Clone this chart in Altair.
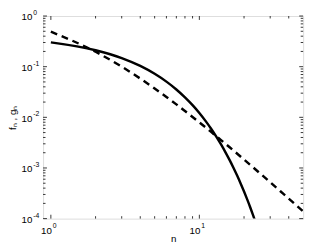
import altair as alt
import pandas as pd

# ---- data ----
g_n = [1, 2, 3, 4, 5, 6, 7, 8, 9, 10, 12, 14, 16, 18, 20, 25, 30, 35, 40, 45, 50]
g_val = [0.490, 0.197, 0.100, 0.0582, 0.0371, 0.0252, 0.0180, 0.0133, 0.01016, 0.00794,
         0.00515, 0.00355, 0.00256, 0.00191, 0.001467, 0.000834, 0.000523, 0.000351,
         0.000249, 0.000183, 0.000139]

f_n = [1, 2, 3, 4, 5, 6, 7, 8, 9, 10, 11, 12, 13, 14, 15, 16, 17, 18, 19, 20,
       21, 22, 23, 24]
f_val = [0.302, 0.211, 0.148, 0.1035, 0.0724, 0.0507, 0.0355, 0.0248, 0.0174, 0.0122,
         0.00851, 0.00596, 0.00417, 0.00292, 0.00204, 0.00143, 0.00100, 0.00070,
         0.00049, 0.000343, 0.00024, 0.000168, 0.000117, 0.0000822]

x_major = [1, 10]
x_minor = [2, 3, 4, 5, 6, 7, 8, 9, 20, 30, 40]
y_major = [1, 0.1, 0.01, 0.001, 0.0001]
y_exp = ["0", "-1", "-2", "-3", "-4"]
x_exp = ["0", "1"]
y_minor = [k * 10.0 ** (-d) for d in range(1, 5) for k in range(2, 10)]

W, H = 267, 208
FONT = "Liberation Sans"

xs = alt.Scale(type="log", domain=[0.886, 50], nice=False)
ys = alt.Scale(type="log", domain=[0.0001, 1], nice=False)

fdf = pd.DataFrame({"n": f_n, "v": f_val})
gdf = pd.DataFrame({"n": g_n, "v": g_val})

xaxis = alt.Axis(labels=False, ticks=False, domain=False, grid=False, title="n",
                 titleFont=FONT, titleFontSize=10, titleFontWeight="normal",
                 titlePadding=16, titleColor="black")
yaxis = alt.Axis(labels=False, ticks=False, domain=False, grid=False, title="fₙ , gₙ",
                 titleFont=FONT, titleFontSize=10, titleFontWeight="normal",
                 titlePadding=26, titleColor="black")

solid = alt.Chart(fdf).mark_line(color="black", strokeWidth=2.5, clip=True,
                                 interpolate="monotone").encode(
    x=alt.X("n:Q", scale=xs, axis=xaxis),
    y=alt.Y("v:Q", scale=ys, axis=yaxis),
)
dashed = alt.Chart(gdf).mark_line(color="black", strokeWidth=2.5, clip=True,
                                  strokeDash=[7, 5], interpolate="monotone").encode(
    x=alt.X("n:Q", scale=xs),
    y=alt.Y("v:Q", scale=ys),
)

def xticks(vals, length):
    df = pd.DataFrame({"n": vals})
    bot = alt.Chart(df).mark_rule(color="black", strokeWidth=0.8).encode(
        x=alt.X("n:Q", scale=xs), y=alt.value(H), y2=alt.value(H - length))
    top = alt.Chart(df).mark_rule(color="black", strokeWidth=0.8).encode(
        x=alt.X("n:Q", scale=xs), y=alt.value(0), y2=alt.value(length))
    return [bot, top]

def yticks(vals, length):
    df = pd.DataFrame({"v": vals})
    left = alt.Chart(df).mark_rule(color="black", strokeWidth=0.8).encode(
        y=alt.Y("v:Q", scale=ys), x=alt.value(0), x2=alt.value(length))
    right = alt.Chart(df).mark_rule(color="black", strokeWidth=0.8).encode(
        y=alt.Y("v:Q", scale=ys), x=alt.value(W), x2=alt.value(W - length))
    return [left, right]

ticks = xticks(x_major, 4) + xticks(x_minor, 2.5) + yticks(y_major, 4) + yticks(y_minor, 2.5)

ylab = pd.DataFrame({"v": y_major, "e": y_exp})
ybase = alt.Chart(ylab).mark_text(align="right", baseline="middle", font=FONT,
                                  fontSize=10, dy=1.5, color="black").encode(
    y=alt.Y("v:Q", scale=ys), x=alt.value(-11), text=alt.value("10"))
ysup = alt.Chart(ylab).mark_text(align="left", baseline="middle", font=FONT,
                                 fontSize=7, dy=-3, color="black").encode(
    y=alt.Y("v:Q", scale=ys), x=alt.value(-10), text="e:N")

xlab = pd.DataFrame({"n": x_major, "e": x_exp})
xbase = alt.Chart(xlab).mark_text(align="right", baseline="middle", font=FONT,
                                  fontSize=10, dx=1, color="black").encode(
    x=alt.X("n:Q", scale=xs), y=alt.value(H + 12.5), text=alt.value("10"))
xsup = alt.Chart(xlab).mark_text(align="left", baseline="middle", font=FONT,
                                 fontSize=7, dx=2, color="black").encode(
    x=alt.X("n:Q", scale=xs), y=alt.value(H + 8), text="e:N")

chart = alt.layer(solid, dashed, *ticks, ybase, ysup, xbase, xsup).properties(
    width=W, height=H,
    autosize=alt.AutoSizeParams(type="none"),
    padding={"left": 36, "top": 5, "right": 5, "bottom": 30},
).configure_view(stroke="black", strokeWidth=1).configure(background="white")

chart.save("out.html", embed_options={"renderer": "svg", "actions": False})
